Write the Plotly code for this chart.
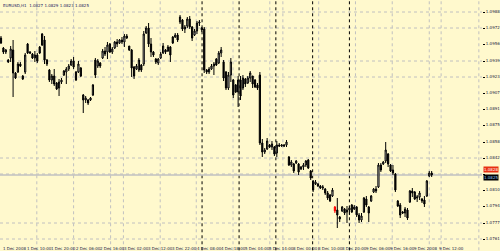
import plotly.graph_objects as go

# ---- data (prices) ----
open_ = [
    1.0962, 1.0952, 1.0948, 1.0940, 1.0942, 1.0950, 1.0927, 1.0928, 1.0936, 1.0924,
    1.0928, 1.0956, 1.0948, 1.0946, 1.0942, 1.0945, 1.0953, 1.0966, 1.0960, 1.0940,
    1.0930, 1.0920, 1.0924, 1.0917, 1.0912, 1.0918, 1.0925, 1.0928, 1.0931, 1.0935,
    1.0939, 1.0928, 1.0928, 1.0932, 1.0905, 1.0900, 1.0900, 1.0900, 1.0905, 1.0940,
    1.0934, 1.0937, 1.0942, 1.0949, 1.0948, 1.0956, 1.0948, 1.0952, 1.0958, 1.0957,
    1.0960, 1.0958, 1.0964, 1.0954, 1.0950, 1.0933, 1.0931, 1.0930, 1.0935, 1.0936,
    1.0967, 1.0972, 1.0956, 1.0948, 1.0941, 1.0937, 1.0942, 1.0947, 1.0950, 1.0949,
    1.0953, 1.0963, 1.0963, 1.0965, 1.0978, 1.0980, 1.0971, 1.0974, 1.0981, 1.0973,
    1.0965, 1.0969, 1.0977, 1.0972, 1.0971, 1.0930, 1.0928, 1.0931, 1.0934, 1.0941,
    1.0937, 1.0947, 1.0938, 1.0928, 1.0912, 1.0925, 1.0920, 1.0915, 1.0908, 1.0920,
    1.0912, 1.0921, 1.0917, 1.0922, 1.0924, 1.0920, 1.0915, 1.0925, 1.0857, 1.0848,
    1.0851, 1.0855, 1.0853, 1.0853, 1.0847, 1.0855, 1.0854, 1.0855, 1.0855, 1.0843,
    1.0835, 1.0836, 1.0837, 1.0836, 1.0831, 1.0833, 1.0835, 1.0840, 1.0829, 1.0819,
    1.0816, 1.0816, 1.0814, 1.0812, 1.0811, 1.0807, 1.0805, 1.0804, 1.0793, 1.0790,
    1.0783, 1.0789, 1.0791, 1.0788, 1.0790, 1.0795, 1.0791, 1.0793, 1.0785, 1.0780,
    1.0788, 1.0801, 1.0793, 1.0799, 1.0808, 1.0811, 1.0813, 1.0835, 1.0836, 1.0839,
    1.0846, 1.0835, 1.0830, 1.0826, 1.0799, 1.0795, 1.0788, 1.0787, 1.0790, 1.0798,
    1.0809, 1.0808, 1.0802, 1.0803, 1.0801, 1.0800, 1.0804, 1.0824, 1.0827,
]
high = [
    1.0964, 1.0953, 1.0951, 1.0941, 1.0954, 1.0960, 1.0928, 1.0938, 1.0938, 1.0925,
    1.0947, 1.0957, 1.0949, 1.0947, 1.0949, 1.0947, 1.0954, 1.0967, 1.0964, 1.0941,
    1.0931, 1.0926, 1.0931, 1.0918, 1.0921, 1.0922, 1.0930, 1.0933, 1.0936, 1.0941,
    1.0943, 1.0929, 1.0939, 1.0933, 1.0906, 1.0904, 1.0901, 1.0903, 1.0916, 1.0942,
    1.0941, 1.0938, 1.0951, 1.0953, 1.0958, 1.0957, 1.0953, 1.0959, 1.0961, 1.0961,
    1.0963, 1.0966, 1.0966, 1.0954, 1.0951, 1.0934, 1.0936, 1.0942, 1.0936, 1.0969,
    1.0974, 1.0977, 1.0962, 1.0949, 1.0942, 1.0942, 1.0948, 1.0957, 1.0951, 1.0955,
    1.0954, 1.0964, 1.0967, 1.0967, 1.0985, 1.0981, 1.0975, 1.0983, 1.0984, 1.0974,
    1.0971, 1.0979, 1.0980, 1.0973, 1.0973, 1.0931, 1.0933, 1.0936, 1.0938, 1.0942,
    1.0949, 1.0953, 1.0940, 1.0929, 1.0928, 1.0942, 1.0921, 1.0916, 1.0924, 1.0924,
    1.0925, 1.0922, 1.0924, 1.0929, 1.0924, 1.0921, 1.0917, 1.0928, 1.0861, 1.0852,
    1.0862, 1.0856, 1.0859, 1.0854, 1.0859, 1.0857, 1.0856, 1.0856, 1.0860, 1.0844,
    1.0840, 1.0837, 1.0840, 1.0837, 1.0834, 1.0837, 1.0840, 1.0841, 1.0830, 1.0820,
    1.0820, 1.0817, 1.0815, 1.0815, 1.0812, 1.0809, 1.0806, 1.0812, 1.0794, 1.0802,
    1.0784, 1.0794, 1.0792, 1.0794, 1.0794, 1.0796, 1.0795, 1.0794, 1.0787, 1.0787,
    1.0803, 1.0804, 1.0794, 1.0805, 1.0812, 1.0814, 1.0837, 1.0837, 1.0839, 1.0858,
    1.0847, 1.0836, 1.0835, 1.0827, 1.0800, 1.0797, 1.0789, 1.0793, 1.0792, 1.0810,
    1.0812, 1.0809, 1.0805, 1.0809, 1.0802, 1.0804, 1.0820, 1.0829, 1.0829,
]
low = [
    1.0956, 1.0946, 1.0946, 1.0937, 1.0938, 1.0903, 1.0921, 1.0927, 1.0933, 1.0920,
    1.0926, 1.0946, 1.0946, 1.0941, 1.0938, 1.0937, 1.0946, 1.0954, 1.0936, 1.0934,
    1.0918, 1.0916, 1.0914, 1.0910, 1.0904, 1.0916, 1.0924, 1.0916, 1.0929, 1.0934,
    1.0931, 1.0919, 1.0927, 1.0923, 1.0887, 1.0897, 1.0895, 1.0899, 1.0904, 1.0922,
    1.0932, 1.0932, 1.0941, 1.0944, 1.0941, 1.0947, 1.0946, 1.0951, 1.0953, 1.0956,
    1.0956, 1.0953, 1.0961, 1.0949, 1.0923, 1.0921, 1.0930, 1.0928, 1.0928, 1.0934,
    1.0966, 1.0953, 1.0943, 1.0943, 1.0936, 1.0935, 1.0941, 1.0946, 1.0946, 1.0948,
    1.0938, 1.0956, 1.0962, 1.0958, 1.0976, 1.0969, 1.0967, 1.0972, 1.0971, 1.0959,
    1.0964, 1.0966, 1.0974, 1.0968, 1.0927, 1.0926, 1.0926, 1.0930, 1.0925, 1.0934,
    1.0936, 1.0943, 1.0919, 1.0910, 1.0910, 1.0918, 1.0902, 1.0907, 1.0893, 1.0900,
    1.0910, 1.0913, 1.0916, 1.0918, 1.0912, 1.0912, 1.0910, 1.0855, 1.0843, 1.0846,
    1.0850, 1.0852, 1.0850, 1.0844, 1.0843, 1.0853, 1.0853, 1.0853, 1.0853, 1.0834,
    1.0833, 1.0827, 1.0836, 1.0825, 1.0830, 1.0830, 1.0833, 1.0831, 1.0820, 1.0808,
    1.0815, 1.0813, 1.0811, 1.0810, 1.0805, 1.0800, 1.0798, 1.0803, 1.0787, 1.0772,
    1.0778, 1.0788, 1.0785, 1.0777, 1.0785, 1.0787, 1.0790, 1.0783, 1.0777, 1.0778,
    1.0787, 1.0793, 1.0778, 1.0798, 1.0807, 1.0807, 1.0812, 1.0828, 1.0835, 1.0837,
    1.0833, 1.0828, 1.0825, 1.0808, 1.0793, 1.0782, 1.0786, 1.0783, 1.0780, 1.0797,
    1.0803, 1.0800, 1.0798, 1.0800, 1.0797, 1.0793, 1.0803, 1.0823, 1.0823,
]
close = [
    1.0957, 1.0948, 1.0950, 1.0938, 1.0951, 1.0927, 1.0922, 1.0936, 1.0934, 1.0921,
    1.0945, 1.0947, 1.0947, 1.0942, 1.0945, 1.0939, 1.0947, 1.0955, 1.0940, 1.0936,
    1.0920, 1.0924, 1.0916, 1.0911, 1.0918, 1.0920, 1.0929, 1.0931, 1.0934, 1.0939,
    1.0933, 1.0920, 1.0936, 1.0924, 1.0900, 1.0902, 1.0897, 1.0902, 1.0915, 1.0925,
    1.0939, 1.0934, 1.0949, 1.0946, 1.0955, 1.0948, 1.0951, 1.0958, 1.0956, 1.0960,
    1.0958, 1.0964, 1.0962, 1.0950, 1.0932, 1.0924, 1.0934, 1.0940, 1.0930, 1.0966,
    1.0972, 1.0956, 1.0948, 1.0945, 1.0938, 1.0941, 1.0946, 1.0954, 1.0948, 1.0953,
    1.0945, 1.0957, 1.0965, 1.0960, 1.0983, 1.0971, 1.0973, 1.0981, 1.0973, 1.0962,
    1.0969, 1.0977, 1.0978, 1.0970, 1.0930, 1.0928, 1.0931, 1.0934, 1.0936, 1.0935,
    1.0947, 1.0950, 1.0922, 1.0912, 1.0925, 1.0938, 1.0905, 1.0908, 1.0920, 1.0904,
    1.0922, 1.0916, 1.0922, 1.0927, 1.0916, 1.0913, 1.0912, 1.0857, 1.0848, 1.0850,
    1.0859, 1.0853, 1.0856, 1.0846, 1.0855, 1.0854, 1.0855, 1.0854, 1.0858, 1.0835,
    1.0838, 1.0829, 1.0839, 1.0828, 1.0833, 1.0835, 1.0839, 1.0832, 1.0822, 1.0810,
    1.0818, 1.0814, 1.0812, 1.0813, 1.0807, 1.0802, 1.0799, 1.0810, 1.0789, 1.0785,
    1.0781, 1.0793, 1.0787, 1.0790, 1.0792, 1.0788, 1.0793, 1.0785, 1.0780, 1.0784,
    1.0802, 1.0795, 1.0787, 1.0804, 1.0811, 1.0809, 1.0835, 1.0830, 1.0838, 1.0850,
    1.0836, 1.0829, 1.0827, 1.0810, 1.0794, 1.0785, 1.0787, 1.0791, 1.0782, 1.0809,
    1.0807, 1.0801, 1.0803, 1.0807, 1.0799, 1.0796, 1.0819, 1.0827, 1.0825,
]
highlight_bar = 138          # the bar drawn in red
ask_price = 1.0828

price_labels = [1.0988, 1.0972, 1.0956, 1.0939, 1.0923, 1.0907, 1.0891, 1.0875,
                1.0858, 1.0842, 1.0826, 1.0810, 1.0794, 1.0777, 1.0761]
grid_prices = [1.0988, 1.0972, 1.0939, 1.0923, 1.0842, 1.0826, 1.0777, 1.0761]
grid_bars = [14.8, 30.0, 45.3, 50.6, 65.8, 80.7, 95.9, 111.1, 116.5, 131.3,
             146.5, 161.7, 177.0, 181.9, 197.5]
separator_bars = [83.1, 98.4, 113.6, 128.8, 144.0]
time_tick_bars = [0, 10, 20, 30, 40, 50, 60, 70, 80, 90, 100, 110, 120, 130,
                  140, 150, 160, 170, 180]
time_tick_text = ["1 Dec 2008", "1 Dec 10:00", "1 Dec 20:00", "2 Dec 06:00",
                  "2 Dec 16:00", "3 Dec 02:00", "3 Dec 12:00", "3 Dec 22:00",
                  "4 Dec 08:00", "4 Dec 18:00", "5 Dec 04:00", "5 Dec 14:00",
                  "8 Dec 00:00", "8 Dec 10:00", "8 Dec 20:00", "9 Dec 06:00",
                  "9 Dec 16:00", "9 Dec 2008", "9 Dec 12:00"]
header = "EURUSD,H1  1.0827 1.0829 1.0823 1.0825"

BG = "#FFF9CD"
GRID = "#C0C0C0"
FONT = "DejaVu Sans"

bars = list(range(len(close)))
main = [i for i in bars if i != highlight_bar]
bid = close[-1]

fig = go.Figure()
fig.add_trace(go.Candlestick(
    x=[bars[i] for i in main],
    open=[open_[i] for i in main], high=[high[i] for i in main],
    low=[low[i] for i in main], close=[close[i] for i in main],
    increasing=dict(line=dict(color="black", width=1), fillcolor="white"),
    decreasing=dict(line=dict(color="black", width=1), fillcolor="black"),
    whiskerwidth=0, showlegend=False, hoverinfo="skip",
))
fig.add_trace(go.Candlestick(
    x=[bars[highlight_bar]], open=[open_[highlight_bar]], high=[high[highlight_bar]],
    low=[low[highlight_bar]], close=[close[highlight_bar]],
    increasing=dict(line=dict(color="red", width=1), fillcolor="red"),
    decreasing=dict(line=dict(color="red", width=1), fillcolor="red"),
    whiskerwidth=0, showlegend=False, hoverinfo="skip",
))

shapes = []
for p in grid_prices:
    shapes.append(dict(type="line", xref="paper", x0=0, x1=1, yref="y", y0=p, y1=p,
                       line=dict(color=GRID, width=1, dash="dot"), layer="below"))
for b in grid_bars:
    shapes.append(dict(type="line", xref="x", x0=b, x1=b, yref="paper", y0=-0.03, y1=1,
                       line=dict(color=GRID, width=1, dash="dot"), layer="below"))
for b in separator_bars:
    shapes.append(dict(type="line", xref="x", x0=b, x1=b, yref="paper", y0=-0.03, y1=1,
                       line=dict(color="black", width=1, dash="dot"), layer="below"))
shapes.append(dict(type="line", xref="paper", x0=0, x1=1, yref="y",
                   y0=bid, y1=bid, line=dict(color=GRID, width=1.5), layer="below"))

annotations = []
for b, t in zip(time_tick_bars, time_tick_text):
    annotations.append(dict(x=b, y=0, xref="x", yref="paper", text=t, showarrow=False,
                            xanchor="left", yanchor="top", yshift=-1,
                            font=dict(size=4, color="#1a1a40", family=FONT)))
annotations.append(dict(x=0.003, y=1, xref="paper", yref="paper", text=header,
                        showarrow=False, xanchor="left", yanchor="top", yshift=-1,
                        font=dict(size=4, color="#202060", family=FONT)))
# ask (red) box sits just above the bid (black) box, both on the bid line
annotations.append(dict(x=1, y=bid, xref="paper", yref="y", text=f"{ask_price:.4f}",
                        showarrow=False, xanchor="left", yanchor="bottom", xshift=1,
                        yshift=2, bgcolor="#E83010", borderpad=0,
                        font=dict(size=4, color="white", family=FONT)))
annotations.append(dict(x=1, y=bid, xref="paper", yref="y", text=f"{bid:.4f}",
                        showarrow=False, xanchor="left", yanchor="top", xshift=1,
                        yshift=1, bgcolor="black", borderpad=0,
                        font=dict(size=4, color="#8fd0ff", family=FONT)))

# the axis label hidden behind the price boxes is left blank, as in the reference
tick_text = ["" if abs(p - bid) < 0.0004 else f"{p:.4f}" for p in price_labels]

fig.update_layout(
    width=500, height=251,
    margin=dict(l=0, r=16, t=0, b=8),
    paper_bgcolor=BG, plot_bgcolor=BG,
    shapes=shapes, annotations=annotations,
    xaxis=dict(range=[-0.41, 198.8], showgrid=False, zeroline=False,
               showticklabels=False, rangeslider=dict(visible=False), fixedrange=True),
    yaxis=dict(range=[1.0757, 1.1000], side="right", showgrid=False, zeroline=False,
               tickvals=price_labels, ticktext=tick_text,
               ticks="outside", ticklen=2, tickcolor="black",
               tickfont=dict(size=4, color="#1a1a40", family=FONT), fixedrange=True),
    font=dict(family=FONT),
)

fig.write_html("out.html")
